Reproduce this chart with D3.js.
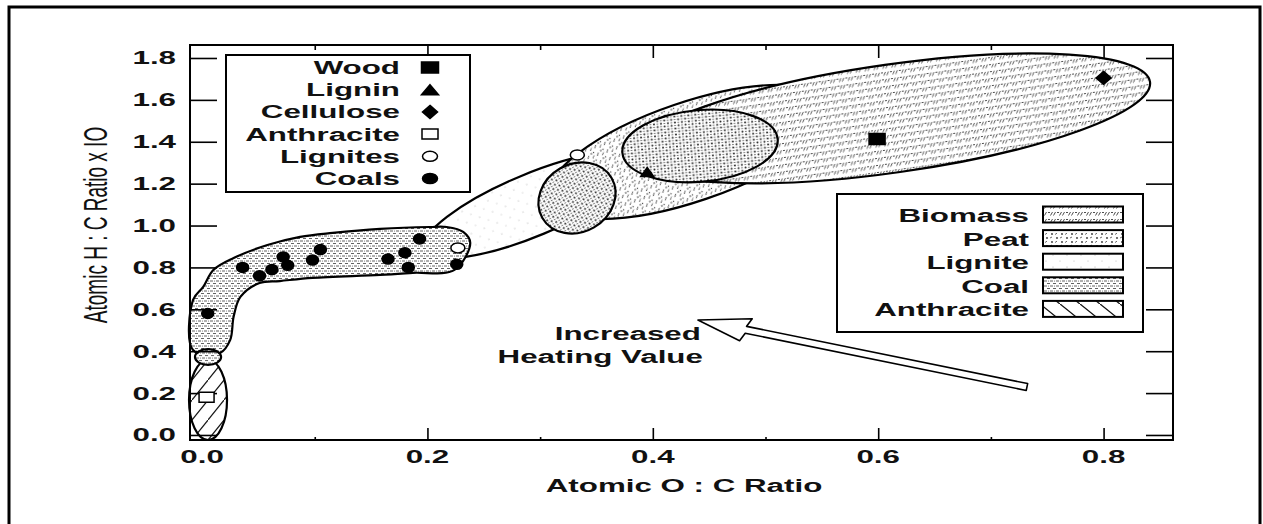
<!DOCTYPE html>
<html>
<head>
<meta charset="utf-8">
<script src="https://cdn.jsdelivr.net/npm/d3@7"></script>
<style>
  html, body { margin: 0; padding: 0; background: #fff; }
  svg text { font-family: "Liberation Sans", Arial, Helvetica, sans-serif; fill: #111; }
</style>
</head>
<body>
<svg id="chart" width="1263" height="524"></svg>
<script>
// ---- axis ticks ----
const xTicks = [0.0, 0.2, 0.4, 0.6, 0.8];
const xMinorTicks = [0.1, 0.3, 0.5, 0.7];
const yTicks = [0.0, 0.2, 0.4, 0.6, 0.8, 1.0, 1.2, 1.4, 1.6, 1.8];

// ---- sample points (atomic O:C, atomic H:C x 10) ----
const coalX = [0.005, 0.036, 0.051, 0.062, 0.072, 0.076, 0.098, 0.105, 0.165, 0.180, 0.183, 0.193, 0.226];
const coalY = [0.580, 0.800, 0.760, 0.790, 0.850, 0.810, 0.835, 0.885, 0.840, 0.870, 0.800, 0.936, 0.815];
const ligniteX = [0.227, 0.333];
const ligniteY = [0.893, 1.337];
const anthraciteX = [0.004];
const anthraciteY = [0.180];
const woodX = [0.599];
const woodY = [1.413];
const ligninX = [0.395];
const ligninY = [1.256];
const celluloseX = [0.800];
const celluloseY = [1.705];

// ---- fuel regions drawn as ellipses: centre, end of major axis, minor/major ratio ----
const regionNames = ["Biomass", "Lignite", "Peat", "PeatCore", "PeatLignite", "Anthracite", "AnthraciteCap"];
const regionPattern = ["biomass", "lignite", "peatHatch", "dense", "dense", "anthracite", "coal"];
const regionCX = [0.6127, 0.2928, 0.4330, 0.4419, 0.3327, 0.0053, 0.0053];
const regionCY = [1.5115, 1.098, 1.3515, 1.380, 1.1318, 0.167, 0.372];
const regionEX = [0.8412, 0.3886, 0.5581, 0.5108, 0.3634, 0.0053, 0.0169];
const regionEY = [1.686, 1.313, 1.5807, 1.4126, 1.2273, 0.358, 0.372];
const regionRatio = [0.208, 0.265, 0.333, 0.46, 0.85, 0.475, 0.6];
// painting order: lignite, peat, biomass, overlap zones
const regionOrder = [1, 2, 0, 3, 4];

// ---- coal band outline ----
const coalBandX = [-0.008, -0.008, 0.001, 0.010, 0.028, 0.058, 0.087, 0.116, 0.158, 0.202, 0.217, 0.232, 0.238,
                   0.224, 0.187, 0.158, 0.098, 0.069, 0.051, 0.034, 0.028, 0.025, 0.016];
const coalBandY = [0.406, 0.645, 0.707, 0.788, 0.845, 0.907, 0.946, 0.965, 0.984, 0.993, 0.993, 0.969, 0.917,
                   0.788, 0.774, 0.764, 0.750, 0.735, 0.726, 0.659, 0.564, 0.454, 0.392];

// ---- legends ----
const sampleLegend = ["Wood", "Lignin", "Cellulose", "Anthracite", "Lignites", "Coals"];
const sampleSymbols = ["squareFilled", "triangle", "diamond", "squareOpen", "circleOpen", "circleFilled"];
const fuelLegend = ["Biomass", "Peat", "Lignite", "Coal", "Anthracite"];
const fuelPatterns = ["biomass", "peat", "lignite", "coal", "anthracite"];

// ---- annotation arrow (tip, tail) ----
const arrowX = [0.440, 0.732];
const arrowY = [0.549, 0.229];

// ================= drawing =================
const SX = 1.74;   // horizontally extended lettering
const svg = d3.select("#chart");
const plot = { left: 190, right: 1173, top: 45, bottom: 440 };

const x = d3.scaleLinear().domain([-0.0107, 0.8616]).range([plot.left, plot.right]);
const y = d3.scaleLinear().domain([-0.024, 1.862]).range([plot.bottom, plot.top]);

// fill patterns
const defs = svg.append("defs");
function pattern(id, w, h, build) {
  const p = defs.append("pattern").attr("id", id).attr("patternUnits", "userSpaceOnUse")
    .attr("width", w).attr("height", h);
  p.append("rect").attr("width", w).attr("height", h).attr("fill", "#fff");
  build(p);
}
pattern("biomass", 9, 7, p => {
  p.append("path").attr("d", "M0.5,5.5 L2.5,2 M4,2.5 L6,2.5 M6.5,5.5 L8.5,2")
    .attr("stroke", "#3a3a3a").attr("stroke-width", 0.9).attr("fill", "none");
});
pattern("peatHatch", 10, 8, p => {
  p.append("path").attr("d", "M1,6 L3,3 M5,2 h2 M6,7 L8,4.5")
    .attr("stroke", "#3a3a3a").attr("stroke-width", 0.9).attr("fill", "none");
  p.append("circle").attr("cx", 8.5).attr("cy", 1.5).attr("r", 0.7).attr("fill", "#444");
});
pattern("peat", 10, 8, p => {
  p.append("circle").attr("cx", 2).attr("cy", 2).attr("r", 0.9).attr("fill", "#333");
  p.append("circle").attr("cx", 7).attr("cy", 6).attr("r", 0.9).attr("fill", "#333");
  p.append("path").attr("d", "M5,2.5 L7,1.2 M0,6 L2,5").attr("stroke", "#444").attr("stroke-width", 0.8);
});
pattern("dense", 7, 6, p => {
  p.append("circle").attr("cx", 1.5).attr("cy", 1.5).attr("r", 1).attr("fill", "#222");
  p.append("circle").attr("cx", 5).attr("cy", 4.5).attr("r", 1).attr("fill", "#222");
  p.append("path").attr("d", "M4,1.5 h1.8 M0.5,4.5 h1.8").attr("stroke", "#555").attr("stroke-width", 0.8);
});
pattern("lignite", 14, 12, p => {
  p.append("circle").attr("cx", 3).attr("cy", 3).attr("r", 0.6).attr("fill", "#aaa");
  p.append("circle").attr("cx", 10).attr("cy", 9).attr("r", 0.6).attr("fill", "#bbb");
});
pattern("coal", 6, 5, p => {
  p.append("path").attr("d", "M0,1 h3 M3,3.5 h3").attr("stroke", "#3a3a3a").attr("stroke-width", 0.8);
  p.append("circle").attr("cx", 4.5).attr("cy", 1).attr("r", 0.5).attr("fill", "#555");
});
pattern("anthracite", 20, 16, p => {
  p.append("path").attr("d", "M0,0 L20,16 M-2,-1.6 L2,1.6 M18,14.4 L22,17.6")
    .attr("stroke", "#111").attr("stroke-width", 1.3);
});

// outer frame
svg.append("rect").attr("x", 9).attr("y", 7).attr("width", 1251).attr("height", 540)
  .attr("fill", "none").attr("stroke", "#000").attr("stroke-width", 3);

// regions
const gRegions = svg.append("g");
function drawRegion(i) {
  const cx = x(regionCX[i]), cy = y(regionCY[i]);
  const ex = x(regionEX[i]), ey = y(regionEY[i]);
  const a = Math.hypot(ex - cx, ey - cy);
  const ang = Math.atan2(ey - cy, ex - cx) * 180 / Math.PI;
  gRegions.append("ellipse")
    .attr("transform", `translate(${cx},${cy}) rotate(${ang})`)
    .attr("rx", a).attr("ry", a * regionRatio[i])
    .attr("fill", `url(#${regionPattern[i]})`)
    .attr("stroke", "#000").attr("stroke-width", 2.2);
}
regionOrder.forEach(drawRegion);

// coal band
const bandPts = coalBandX.map((v, i) => [x(v), y(coalBandY[i])]);
gRegions.append("path")
  .attr("d", d3.line().curve(d3.curveCatmullRomClosed.alpha(0.5))(bandPts))
  .attr("fill", "url(#coal)").attr("stroke", "#000").attr("stroke-width", 2.2);

// anthracite
[5, 6].forEach(drawRegion);

// axes frame
svg.append("rect").attr("x", plot.left).attr("y", plot.top)
  .attr("width", plot.right - plot.left).attr("height", plot.bottom - plot.top)
  .attr("fill", "none").attr("stroke", "#000").attr("stroke-width", 2);

function styleAxis(g) {
  g.select(".domain").remove();
  g.selectAll(".tick line").attr("stroke", "#000").attr("stroke-width", 1.6);
}
// bottom
svg.append("g").attr("transform", `translate(0,${plot.bottom})`)
  .call(d3.axisBottom(x).tickValues(xTicks.filter(v => v > 0)).tickSizeInner(-12).tickSizeOuter(0).tickFormat(""))
  .call(styleAxis);
svg.append("g").attr("transform", `translate(0,${plot.bottom})`)
  .call(d3.axisBottom(x).tickValues(xMinorTicks).tickSizeInner(-3).tickSizeOuter(0).tickFormat(""))
  .call(styleAxis);
// top
svg.append("g").attr("transform", `translate(0,${plot.top})`)
  .call(d3.axisTop(x).tickValues(xTicks.filter(v => v > 0)).tickSizeInner(-13).tickSizeOuter(0).tickFormat(""))
  .call(styleAxis);
svg.append("g").attr("transform", `translate(0,${plot.top})`)
  .call(d3.axisTop(x).tickValues(xMinorTicks).tickSizeInner(-5).tickSizeOuter(0).tickFormat(""))
  .call(styleAxis);
// left / right
svg.append("g").attr("transform", `translate(${plot.left},0)`)
  .call(d3.axisLeft(y).tickValues(yTicks).tickSizeInner(-27).tickSizeOuter(0).tickFormat(""))
  .call(styleAxis);
svg.append("g").attr("transform", `translate(${plot.right},0)`)
  .call(d3.axisRight(y).tickValues(yTicks).tickSizeInner(-27).tickSizeOuter(0).tickFormat(""))
  .call(styleAxis);

// extended-lettering text helper
function label(parent, px, py, str, opts = {}) {
  return parent.append("text")
    .attr("transform", `translate(${px},${py}) scale(${opts.sx || SX},1)`)
    .attr("text-anchor", opts.anchor || "start")
    .attr("font-size", opts.size || 18)
    .attr("font-weight", opts.weight || "bold")
    .text(str);
}

// tick labels
const gLabels = svg.append("g");
xTicks.forEach(v => label(gLabels, x(v), 463, d3.format(".1f")(v), { anchor: "middle" }));
yTicks.forEach(v => label(gLabels, 176, y(v) + 6.5, d3.format(".1f")(v), { anchor: "end" }));

// axis titles
label(gLabels, 684, 492, "Atomic O : C Ratio", { anchor: "middle" });
svg.append("text")
  .attr("transform", `translate(107,225) scale(${SX},1) rotate(-90)`)
  .attr("text-anchor", "middle").attr("font-size", 19).attr("font-weight", "normal")
  .text("Atomic H : C Ratio x IO");

// markers
function symbolPath(kind, w, h) {
  switch (kind) {
    case "squareFilled":
    case "squareOpen":
      return `M${-w/2},${-h/2}h${w}v${h}h${-w}Z`;
    case "triangle":
      return `M0,${-h/2}L${w/2},${h/2}L${-w/2},${h/2}Z`;
    case "diamond":
      return `M0,${-h/2}L${w/2},0L0,${h/2}L${-w/2},0Z`;
    default: {
      const rx = w / 2, ry = h / 2;
      return `M${-rx},0a${rx},${ry} 0 1,0 ${2*rx},0a${rx},${ry} 0 1,0 ${-2*rx},0Z`;
    }
  }
}
function symbolFill(kind) {
  return (kind === "squareOpen" || kind === "circleOpen") ? "#fff" : "#000";
}
const gPts = svg.append("g");
function drawPoints(xs, ys, kind, w, h) {
  gPts.selectAll(null).data(xs.map((v, i) => [v, ys[i]])).join("path")
    .attr("transform", d => `translate(${x(d[0])},${y(d[1])})`)
    .attr("d", symbolPath(kind, w, h))
    .attr("fill", symbolFill(kind))
    .attr("stroke", "#000").attr("stroke-width", 1.5);
}
drawPoints(coalX, coalY, "circleFilled", 12, 10);
drawPoints(ligniteX, ligniteY, "circleOpen", 14, 10);
drawPoints(anthraciteX, anthraciteY, "squareOpen", 15, 10);
drawPoints(woodX, woodY, "squareFilled", 16, 11);
drawPoints(ligninX, ligninY, "triangle", 13, 9);
drawPoints(celluloseX, celluloseY, "diamond", 15, 13);

// "Increased Heating Value" arrow
(function () {
  const tip = [x(arrowX[0]), y(arrowY[0])];
  const tail = [x(arrowX[1]), y(arrowY[1])];
  const len = Math.hypot(tail[0] - tip[0], tail[1] - tip[1]);
  const u = [(tail[0] - tip[0]) / len, (tail[1] - tip[1]) / len];
  const n = [-u[1], u[0]];
  const hl = 49, hw = 12, sw = 3.5;
  const P = (along, perp) => [tip[0] + u[0] * along + n[0] * perp, tip[1] + u[1] * along + n[1] * perp];
  const pts = [P(0, 0), P(hl + 4, -hw), P(hl, -sw), P(len, -sw), P(len, sw), P(hl, sw), P(hl - 4, hw)];
  svg.append("path").attr("d", "M" + pts.map(p => p.join(",")).join("L") + "Z")
    .attr("fill", "#fff").attr("stroke", "#000").attr("stroke-width", 1.6).attr("stroke-linejoin", "round");
  label(svg, tip[0] + 3, 340, "Increased", { anchor: "end" });
  label(svg, tip[0] + 5, 363, "Heating Value", { anchor: "end" });
})();

// sample legend
const gL1 = svg.append("g");
gL1.append("rect").attr("x", 226).attr("y", 55).attr("width", 244).attr("height", 137)
  .attr("fill", "#fff").attr("stroke", "#000").attr("stroke-width", 2);
const l1Sizes = { squareFilled: [17, 11], triangle: [17, 10], diamond: [15, 13], squareOpen: [16, 10], circleOpen: [15, 10], circleFilled: [15, 10] };
sampleLegend.forEach((name, i) => {
  const base = 74 + i * 22.2;
  label(gL1, 400, base, name, { anchor: "end" });
  const k = sampleSymbols[i];
  gL1.append("path").attr("transform", `translate(430,${base - 6.5})`)
    .attr("d", symbolPath(k, l1Sizes[k][0], l1Sizes[k][1]))
    .attr("fill", symbolFill(k)).attr("stroke", "#000").attr("stroke-width", 1.5);
});

// fuel legend
const gL2 = svg.append("g");
gL2.append("rect").attr("x", 837).attr("y", 194).attr("width", 306).attr("height", 138)
  .attr("fill", "#fff").attr("stroke", "#000").attr("stroke-width", 2);
fuelLegend.forEach((name, i) => {
  const base = 222 + i * 23.6;
  label(gL2, 1029, base, name, { anchor: "end" });
  gL2.append("rect").attr("x", 1043).attr("y", base - 15.5).attr("width", 80).attr("height", 16)
    .attr("fill", `url(#${fuelPatterns[i]})`).attr("stroke", "#000").attr("stroke-width", 2);
});
</script>
</body>
</html>
